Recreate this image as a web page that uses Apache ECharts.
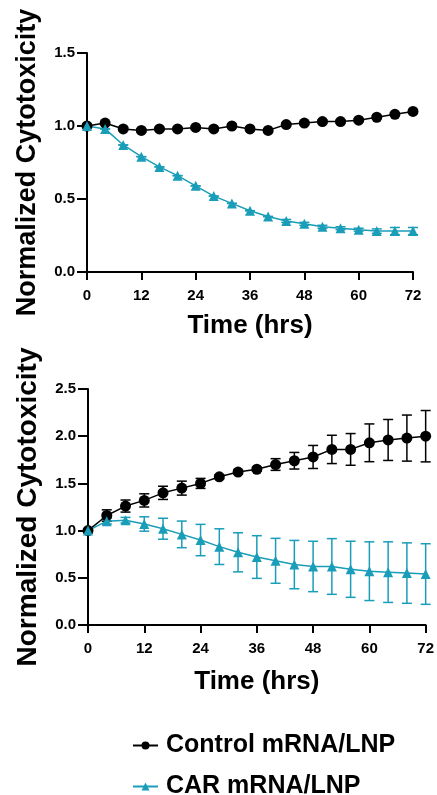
<!DOCTYPE html>
<html>
<head>
<meta charset="utf-8">
<script src="https://cdn.jsdelivr.net/npm/echarts@6/dist/echarts.min.js"></script>
<style>
  html, body { margin: 0; padding: 0; background: #fff; }
  #chart { width: 437px; height: 795px; }
</style>
</head>
<body>
<div id="chart"></div>
<script>
// Sampling times (hours)
const timeHrs = [0, 4, 8, 12, 16, 20, 24, 28, 32, 36, 40, 44, 48, 52, 56, 60, 64, 68, 72];

// Upper panel: normalized cytotoxicity (mean, SEM)
const ctrlTop    = [1.00, 1.02, 0.98, 0.97, 0.98, 0.98, 0.99, 0.98, 1.00, 0.98, 0.97, 1.01, 1.02, 1.03, 1.03, 1.04, 1.06, 1.08, 1.10];
const ctrlTopErr = [0.01, 0.01, 0.01, 0.01, 0.01, 0.01, 0.01, 0.01, 0.01, 0.01, 0.01, 0.01, 0.01, 0.01, 0.01, 0.01, 0.01, 0.01, 0.01];
const carTop     = [1.00, 0.98, 0.87, 0.79, 0.72, 0.66, 0.59, 0.52, 0.47, 0.42, 0.38, 0.35, 0.33, 0.31, 0.30, 0.29, 0.28, 0.28, 0.28];
const carTopErr  = [0.00, 0.00, 0.00, 0.00, 0.00, 0.00, 0.00, 0.00, 0.00, 0.00, 0.00, 0.01, 0.01, 0.01, 0.01, 0.01, 0.015, 0.025, 0.025];

// Lower panel: normalized cytotoxicity (mean, SEM)
const ctrlBot    = [1.00, 1.16, 1.26, 1.32, 1.40, 1.45, 1.50, 1.57, 1.62, 1.65, 1.70, 1.74, 1.78, 1.86, 1.86, 1.93, 1.96, 1.98, 2.00];
const ctrlBotErr = [0.01, 0.06, 0.064, 0.07, 0.07, 0.074, 0.053, 0.02, 0.02, 0.02, 0.062, 0.088, 0.122, 0.15, 0.168, 0.20, 0.217, 0.244, 0.272];
const carBot     = [1.00, 1.10, 1.11, 1.07, 1.02, 0.96, 0.90, 0.83, 0.77, 0.72, 0.68, 0.64, 0.62, 0.62, 0.59, 0.57, 0.56, 0.55, 0.54];
const carBotErr  = [0.02, 0.03, 0.03, 0.076, 0.111, 0.141, 0.166, 0.189, 0.207, 0.226, 0.238, 0.256, 0.267, 0.295, 0.297, 0.311, 0.321, 0.32, 0.321];

const xTicks = [0, 12, 24, 36, 48, 60, 72];
const seriesNames = ['Control mRNA/LNP', 'CAR mRNA/LNP'];

const BLACK = '#000000';
const TEAL = '#1a9db8';
const FONT = 'Liberation Sans, Arial, Helvetica, sans-serif';

const pairs = (ys) => timeHrs.map((t, i) => [t, ys[i]]);
const bars = (ys, es) => timeHrs.map((t, i) => [t, ys[i] - es[i], ys[i] + es[i]]);

function errorBarRenderer(color) {
  return function (params, api) {
    const x = api.value(0);
    const lo = api.coord([x, api.value(1)]);
    const hi = api.coord([x, api.value(2)]);
    const cap = 5;
    const style = { stroke: color, lineWidth: 1.5, fill: null };
    return {
      type: 'group',
      children: [
        { type: 'line', shape: { x1: lo[0], y1: lo[1], x2: hi[0], y2: hi[1] }, style },
        { type: 'line', shape: { x1: lo[0] - cap, y1: lo[1], x2: lo[0] + cap, y2: lo[1] }, style },
        { type: 'line', shape: { x1: hi[0] - cap, y1: hi[1], x2: hi[0] + cap, y2: hi[1] }, style }
      ]
    };
  };
}

function xAxisFor(gridIndex, gap) {
  return {
    type: 'value', gridIndex, min: 0, max: 72, interval: 12,
    name: 'Time (hrs)', nameLocation: 'middle', nameGap: gap,
    nameTextStyle: { fontFamily: FONT, fontWeight: 'bold', fontSize: 26, color: BLACK },
    axisLine: { lineStyle: { color: BLACK, width: 2 } },
    axisTick: { show: true, length: 8, lineStyle: { color: BLACK, width: 2 } },
    axisLabel: {
      margin: 16, fontFamily: FONT, fontWeight: 'bold', fontSize: 15, color: BLACK,
      formatter: (v) => (xTicks.indexOf(v) >= 0 ? String(v) : '')
    },
    splitLine: { show: false }
  };
}

function yAxisFor(gridIndex, max, gap, nameSize) {
  return {
    type: 'value', gridIndex, min: 0, max, interval: 0.5,
    name: 'Normalized Cytotoxicity', nameLocation: 'middle', nameGap: gap,
    nameTextStyle: { fontFamily: FONT, fontWeight: 'bold', fontSize: nameSize, color: BLACK },
    axisLine: { show: true, lineStyle: { color: BLACK, width: 2 } },
    axisTick: { show: true, length: 10, lineStyle: { color: BLACK, width: 2 } },
    axisLabel: {
      margin: 12, fontFamily: FONT, fontWeight: 'bold', fontSize: 15, color: BLACK,
      formatter: (v) => v.toFixed(1)
    },
    splitLine: { show: false }
  };
}

function lineSeries(name, data, color, symbol, size, xi) {
  return {
    name, type: 'line', xAxisIndex: xi, yAxisIndex: xi, data,
    symbol, symbolSize: size, z: 3,
    lineStyle: { color, width: 1.5 },
    itemStyle: { color, borderWidth: 0 },
    emphasis: { disabled: true },
    animation: false
  };
}

function errSeries(name, data, color, xi) {
  return {
    name, type: 'custom', xAxisIndex: xi, yAxisIndex: xi, data,
    renderItem: errorBarRenderer(color), z: 2,
    encode: { x: 0, y: [1, 2] },
    animation: false, silent: true
  };
}

function legendFor(name, top) {
  return {
    data: [name],
    orient: 'horizontal',
    left: 127, top,
    itemWidth: 25, itemHeight: 10,
    textStyle: {
      fontFamily: FONT, fontWeight: 'bold', fontSize: 25, color: BLACK,
      padding: [0, 0, 0, 3]
    },
    selectedMode: false
  };
}

const chart = echarts.init(document.getElementById('chart'), null, { renderer: 'canvas' });

chart.setOption({
  backgroundColor: '#ffffff',
  animation: false,
  grid: [
    { left: 87, right: 24, top: 53, height: 219 },
    { left: 88, right: 9, top: 389, height: 236 }
  ],
  xAxis: [xAxisFor(0, 41), xAxisFor(1, 44)],
  yAxis: [yAxisFor(0, 1.5, 46, 27), yAxisFor(1, 2.5, 46, 28)],
  legend: [legendFor(seriesNames[0], 728), legendFor(seriesNames[1], 769)],
  series: [
    lineSeries(seriesNames[0], pairs(ctrlTop), BLACK, 'circle', 11, 0),
    lineSeries(seriesNames[1], pairs(carTop), TEAL, 'triangle', 10, 0),
    lineSeries(seriesNames[0], pairs(ctrlBot), BLACK, 'circle', 11, 1),
    lineSeries(seriesNames[1], pairs(carBot), TEAL, 'triangle', 10, 1),
    errSeries(seriesNames[0], bars(ctrlTop, ctrlTopErr), BLACK, 0),
    errSeries(seriesNames[1], bars(carTop, carTopErr), TEAL, 0),
    errSeries(seriesNames[0], bars(ctrlBot, ctrlBotErr), BLACK, 1),
    errSeries(seriesNames[1], bars(carBot, carBotErr), TEAL, 1)
  ]
});
</script>
</body>
</html>
